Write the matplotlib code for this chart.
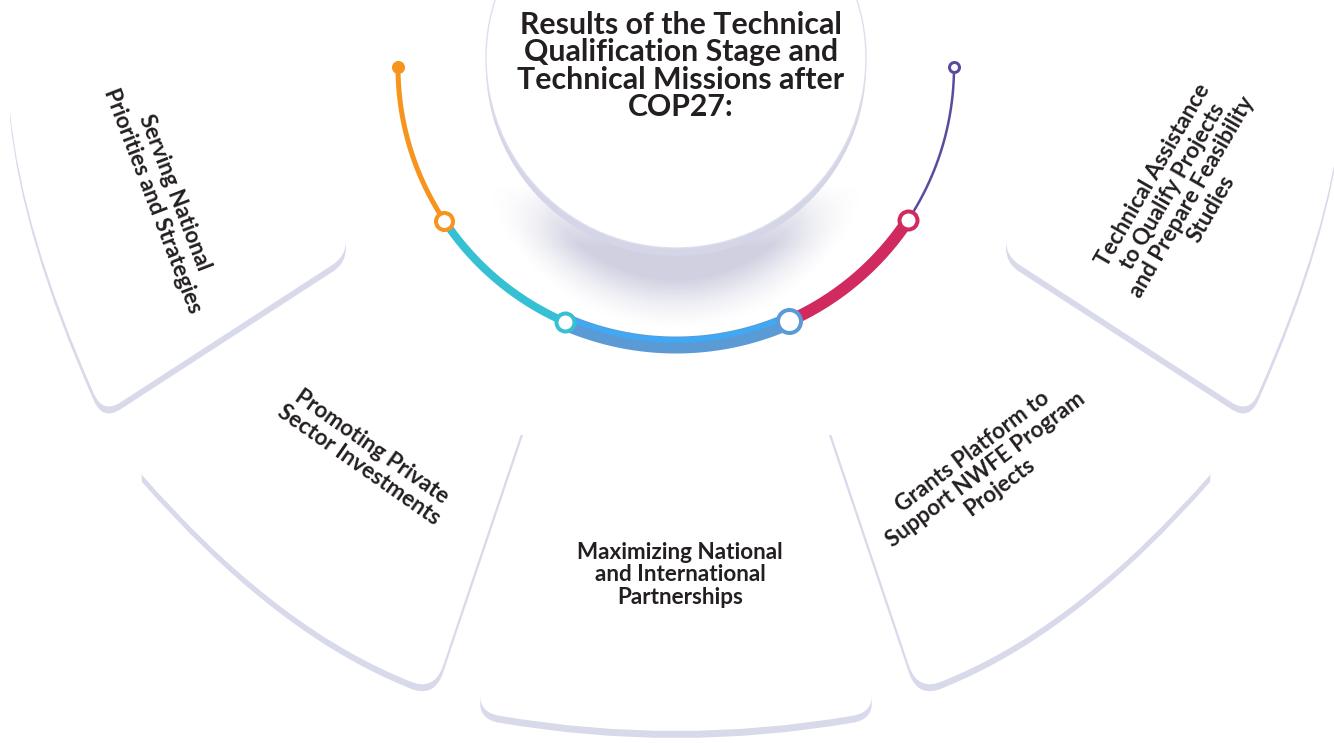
import numpy as np
import matplotlib
matplotlib.use('Agg')
import matplotlib.pyplot as plt
from matplotlib.path import Path
from matplotlib.patches import PathPatch, Circle

# infographic: titled half-ring with five fan cards

title_lines = ['Results of the Technical', 'Qualification Stage and',
               'Technical Missions after', 'COP27:']

card_labels = [
    ['Serving National', 'Priorities and Strategies'],
    ['Promoting Private', 'Sector Investments'],
    ['Maximizing National', 'and International', 'Partnerships'],
    ['Grants Platform to', 'Support NWFE Program', 'Projects'],
    ['Technical Assistance', 'to Qualify Projects', 'and Prepare Feasibility', 'Studies'],
]

# arc segments (degrees, measured counter-clockwise, 180 = left end)
seg_breaks = [180, 213.6, 246.4, 294, 326.5, 360]
seg_colors = ['#f7941d', '#36c0d3', '#5b9bd5', '#d12a5f', '#5d4a9f']
seg_widths = [5, 8, 17, 12, 2.5]          # px

TEXT = '#231f20'
SHADOW = '#d8d9ea'
PT = 0.72  # points per pixel at dpi 100

fig = plt.figure(figsize=(13.34, 7.43), dpi=100)
ax = fig.add_axes([0, 0, 1, 1])

CX = 676


def make_path(cmds, mirror=False, dy=0):
    verts, codes = [], []
    for c in cmds:
        pts = c[1:]
        if mirror:
            pts = [(2 * CX - x, y) for x, y in pts]
        pts = [(x, y + dy) for x, y in pts]
        if c[0] == 'M':
            verts += pts; codes += [Path.MOVETO]
        elif c[0] == 'L':
            verts += pts; codes += [Path.LINETO]
        else:
            verts += pts; codes += [Path.CURVE3, Path.CURVE3]
    verts.append(verts[0]); codes.append(Path.CLOSEPOLY)
    return Path(verts, codes)


card_top_left = [('M', (10, 100)), ('L', (10, 112)), ('Q', (22, 232), (94, 394)),
                 ('Q', (103, 414), (121, 402)), ('L', (333, 264.5)),
                 ('Q', (346, 256), (346, 241)), ('L', (346, 200)), ('L', (10, 100))]
card_low_left = [('M', (170, 432)), ('Q', (138, 445), (142, 475)),
                 ('Q', (269, 620), (395, 675)), ('L', (409, 681)),
                 ('Q', (434, 692), (443, 666)), ('L', (523, 428)), ('L', (170, 430))]
card_bottom = [('M', (535, 420)), ('L', (481, 688)), ('Q', (476, 713), (501, 716)),
               ('Q', (676, 746), (851, 716)), ('Q', (876, 713), (871, 688)),
               ('L', (817, 420)), ('L', (535, 420))]

cards = [(card_top_left, False), (card_low_left, False), (card_bottom, False),
         (card_low_left, True), (card_top_left, True)]

for cmds, mir in cards:
    ax.add_patch(PathPatch(make_path(cmds, mir, dy=7), fc=SHADOW, ec='none', zorder=1))
for cmds, mir in cards:
    ax.add_patch(PathPatch(make_path(cmds, mir), fc='white', ec='none', zorder=2))

# soft shadow under the title disc
gx = np.linspace(400, 950, 551)
gy = np.linspace(60, 380, 321)
X, Y = np.meshgrid(gx, gy)
d = np.hypot(X - CX, Y - 128) - 152
alpha = np.where(d < 0, 1.0, np.clip(1 - d / 50, 0, 1) ** 1.5)
alpha *= np.clip((Y - 185) / 60, 0, 1) * 0.6
img = np.zeros(X.shape + (4,))
img[..., 0] = 0.70
img[..., 1] = 0.70
img[..., 2] = 0.81
img[..., 3] = alpha
ax.imshow(img, extent=(400, 950, 380, 60), origin='upper', zorder=3,
          interpolation='bilinear', aspect='auto')
ax.set_xlim(0, 1334)
ax.set_ylim(743, 0)
ax.axis('off')

ax.add_patch(Circle((CX, 66), 190, fc='#d4d5e7', ec='none', zorder=4))
ax.add_patch(Circle((CX, 58), 190, fc='white', ec='#dedfec', lw=1.0, zorder=5))


def put_lines(lines, cx, cy, angle, size, step):
    th = np.deg2rad(angle)
    down = np.array([np.sin(th), np.cos(th)])
    n = len(lines)
    cap = 0.72 * size / PT
    for i, s in enumerate(lines):
        off = (i - (n - 1) / 2) * step + cap / 2
        ax.text(cx + down[0] * off, cy + down[1] * off, s, rotation=angle,
                rotation_mode='anchor', ha='center', va='baseline',
                fontsize=size, fontweight='bold', family='Lato', color=TEXT,
                zorder=10)


put_lines(title_lines, 681, 64, 0, 21.8, 27.3)

card_pos = [(165, 196, -69), (366, 455, -35), (680, 573, 0),
            (985, 468, 37), (1181, 191, 60)]
for lab, (x, y, a) in zip(card_labels, card_pos):
    put_lines(lab, x, y, a, 16.2, 22.5)

# the coloured half ring
R, CY = 278, 67


def ring_xy(a0, a1, r=R):
    t = np.deg2rad(np.linspace(a0, a1, 120))
    return CX + r * np.cos(t), CY - r * np.sin(t)


for i, col in enumerate(seg_colors):
    x, y = ring_xy(seg_breaks[i], seg_breaks[i + 1])
    ax.plot(x, y, color=col, lw=seg_widths[i] * PT, solid_capstyle='butt', zorder=7)
x, y = ring_xy(seg_breaks[2], seg_breaks[3], R - 5)
ax.plot(x, y, color='#3fa9f5', lw=5 * PT, solid_capstyle='butt', zorder=7)

# nodes
def node(ang, face, edge, outer, ew):
    x, y = ring_xy(ang, ang)
    ax.plot(x[:1], y[:1], 'o', ms=(outer - ew) * PT, mfc=face, mec=edge,
            mew=ew * PT, zorder=8)


node(seg_breaks[0], seg_colors[0], seg_colors[0], 13, 1)
node(seg_breaks[1], 'white', seg_colors[0], 21, 4)
node(seg_breaks[2], 'white', seg_colors[1], 22, 4)
node(seg_breaks[3], 'white', seg_colors[2], 27, 4)
node(seg_breaks[4], 'white', seg_colors[3], 22, 4)
node(seg_breaks[5], 'white', seg_colors[4], 13, 3)

fig.savefig('out.png', dpi=100, facecolor='white')
